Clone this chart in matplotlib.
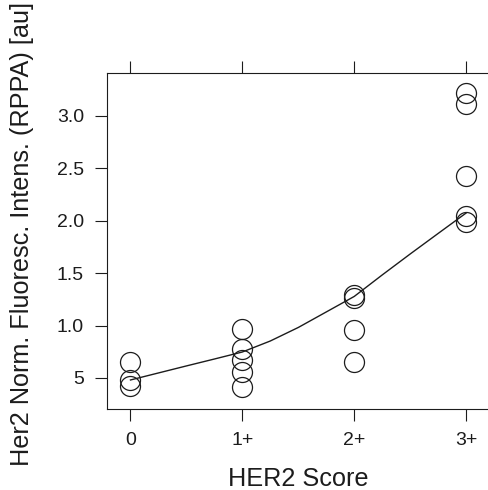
#!/usr/bin/env python3

import numpy as np
from matplotlib import pyplot as plt

# HER2 score groups (x positions 0..3) and RPPA intensities
score_labels = ['0', '1+', '2+', '3+']
score0 = [0.65, 0.48, 0.42]
score1 = [0.97, 0.78, 0.67, 0.56, 0.41]
score2 = [1.29, 1.26, 0.96, 0.65]
score3 = [3.22, 3.11, 2.43, 2.05, 1.99]

# Smooth (loess) curve
smooth_x = [0, 0.25, 0.5, 0.75, 1.0, 1.25, 1.5, 1.75, 2.0, 2.25, 2.5, 2.75, 3.0]
smooth_y = [0.481, 0.548, 0.615, 0.681, 0.748, 0.853, 0.982, 1.130, 1.278,
            1.483, 1.683, 1.879, 2.074]

y_ticks = [0.5, 1.0, 1.5, 2.0, 2.5, 3.0]
y_tick_labels = ['5', '1.0', '1.5', '2.0', '2.5', '3.0']

ink = '#1c1c1c'
font = ['Liberation Sans', 'DejaVu Sans']
out_file = 'out.png'

plt.rcParams['font.family'] = font

groups = [score0, score1, score2, score3]
x = np.concatenate([[i] * len(g) for i, g in enumerate(groups)]).astype(float)
y = np.concatenate(groups).astype(float)

fig = plt.figure(figsize=(4.89, 4.90), dpi=100)
ax = fig.add_axes([0.2188, 0.1653, 0.7824, 0.6857])

# Open circles for samples, line for the smoother
ax.plot(x, y, 'o', markersize=14.4, markerfacecolor='none',
        markeredgecolor=ink, markeredgewidth=0.9)
ax.plot(smooth_x, smooth_y, color=ink, linewidth=1.0)

ax.set_xlim(-0.21, 3.21)
ax.set_ylim(0.204, 3.41)

ax.set_xticks(range(4))
ax.set_xticklabels(score_labels)
ax.set_yticks(y_ticks)
ax.set_yticklabels(y_tick_labels)

ax.tick_params(direction='out', length=8.6, width=0.8, colors=ink,
               labelsize=14, pad=8, top=True, right=True)
for s in ax.spines.values():
    s.set_color(ink)
    s.set_linewidth(0.8)

ax.set_xlabel('HER2 Score', fontsize=18.2, color=ink, labelpad=13)
ax.set_ylabel('Her2 Norm. Fluoresc. Intens. (RPPA) [au]', fontsize=18.2,
              color=ink)
ax.yaxis.set_label_coords(-0.19, 0.52)

plt.savefig(out_file, dpi=100)
